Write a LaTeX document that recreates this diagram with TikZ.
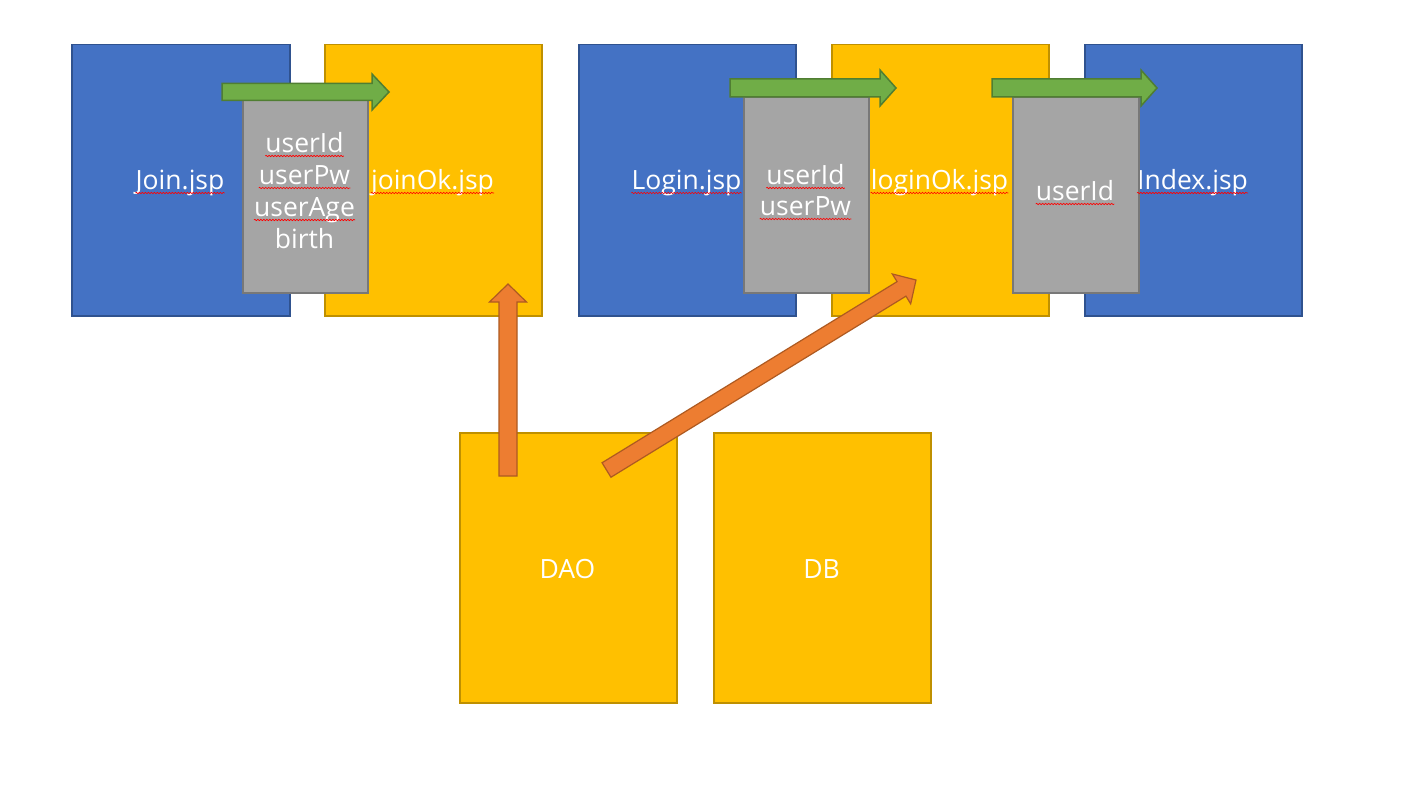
\documentclass[tikz,border=0pt]{standalone}
\usepackage{fontspec}
\setmainfont{Open Sans}
\usetikzlibrary{calc,decorations.pathmorphing}
\definecolor{bluefill}{HTML}{4472C4}
\definecolor{blueline}{HTML}{2F528F}
\definecolor{yelfill}{HTML}{FFC000}
\definecolor{yelline}{HTML}{BF9000}
\definecolor{greyfill}{HTML}{A5A5A5}
\definecolor{greyline}{HTML}{787878}
\definecolor{grnfill}{HTML}{70AD47}
\definecolor{grnline}{HTML}{507E32}
\definecolor{orgfill}{HTML}{ED7D31}
\definecolor{orgline}{HTML}{AE5A21}
\tikzset{
  boxbase/.style={anchor=north west, inner sep=0pt, line width=1.5pt},
  bluebox/.style={boxbase, draw=blueline, fill=bluefill},
  yelbox/.style={boxbase, draw=yelline, fill=yelfill},
  greybox/.style={boxbase, draw=greyline, fill=greyfill},
  grnarrow/.style={draw=grnline, fill=grnfill, line width=1.5pt},
  orgarrow/.style={draw=orgline, fill=orgfill, line width=1.2pt},
  lbl/.style={text=white, font=\fontsize{26.5}{32}\selectfont, inner sep=0pt, anchor=base},
  squig/.style={draw=red, line width=0.6pt, decorate, decoration={snake, segment length=3pt, amplitude=0.7pt}}
}
\newcommand\squnder[1]{\draw[squig] ($(#1.base west)+(0,4)$) -- ($(#1.base east)+(0,4)$);}
% style, tail, tip, shaft half width, head half width, head length
\newcommand\blockarrow[6]{%
  \coordinate (#2-h) at ($(#3)!#6!(#2)$);
  \draw[#1] ($(#2)!#4!90:(#3)$) -- ($(#2-h)!#4!90:(#3)$) -- ($(#2-h)!#5!90:(#3)$) -- (#3)
    -- ($(#2-h)!#5!-90:(#3)$) -- ($(#2-h)!#4!-90:(#3)$) -- ($(#2)!#4!-90:(#3)$) -- cycle;}
\begin{document}
\begin{tikzpicture}[x=1pt,y=-1pt]
\useasboundingbox[fill=white] (0,0) rectangle (1428,792);
% main boxes
\node[bluebox, minimum width=218pt, minimum height=271pt] (join) at (71,44) {};
\node[yelbox, minimum width=217pt, minimum height=271pt] (joinok) at (324,44) {};
\node[bluebox, minimum width=217pt, minimum height=271pt] (login) at (578,44) {};
\node[yelbox, minimum width=217pt, minimum height=271pt] (loginok) at (831,44) {};
\node[bluebox, minimum width=217pt, minimum height=271pt] (index) at (1084,44) {};
\node[yelbox, minimum width=217pt, minimum height=270pt] (dao) at (459,432) {};
\node[yelbox, minimum width=217pt, minimum height=270pt] (db) at (713,432) {};
% main labels
\node[lbl] (tjoin) at (180,189) {Join.jsp};
\node[lbl] (tjoinok) at (432.5,189) {joinOk.jsp};
\node[lbl] (tlogin) at (686.5,189) {Login.jsp};
\node[lbl] (tloginok) at (939.5,189) {loginOk.jsp};
\node[lbl] (tindex) at (1192.5,189) {Index.jsp};
\node[lbl] (tdao) at (567.5,578) {DAO};
\node[lbl] (tdb) at (821.5,578) {DB};
% grey parameter boxes
\node[greybox, minimum width=125pt, minimum height=192pt] (g1) at (242,100) {};
\node[greybox, minimum width=125pt, minimum height=195pt] (g2) at (743,97) {};
\node[greybox, minimum width=126pt, minimum height=195pt] (g3) at (1012,97) {};
\node[lbl] (g1a) at (304.5,152) {userId};
\node[lbl] (g1b) at (304.5,184) {userPw};
\node[lbl] (g1c) at (304.5,216) {userAge};
\node[lbl] (g1d) at (304.5,248) {birth};
\node[lbl] (g2a) at (805.5,184) {userId};
\node[lbl] (g2b) at (805.5,215) {userPw};
\node[lbl] (g3a) at (1075,200) {userId};
% spell-check squiggles
\squnder{tjoin}\squnder{tjoinok}\squnder{tlogin}\squnder{tloginok}\squnder{tindex}
\squnder{g1a}\squnder{g1b}\squnder{g1c}\squnder{g2a}\squnder{g2b}\squnder{g3a}
% green arrows
\coordinate (ga) at (222,92);  \coordinate (gaend) at (389,92);
\coordinate (gb) at (730,88);  \coordinate (gbend) at (896,88);
\coordinate (gc) at (992,88);  \coordinate (gcend) at (1157,88);
\blockarrow{grnarrow}{ga}{gaend}{8.5pt}{18pt}{17pt}
\blockarrow{grnarrow}{gb}{gbend}{9pt}{18pt}{16pt}
\blockarrow{grnarrow}{gc}{gcend}{9pt}{18pt}{16pt}
% orange arrows
\coordinate (oa) at (508,476); \coordinate (oaend) at (508,284);
\coordinate (ob) at (606.5,470); \coordinate (obend) at (916,280);
\blockarrow{orgarrow}{oa}{oaend}{9pt}{18.5pt}{18pt}
\blockarrow{orgarrow}{ob}{obend}{8.5pt}{17.5pt}{17pt}
\end{tikzpicture}
\end{document}
